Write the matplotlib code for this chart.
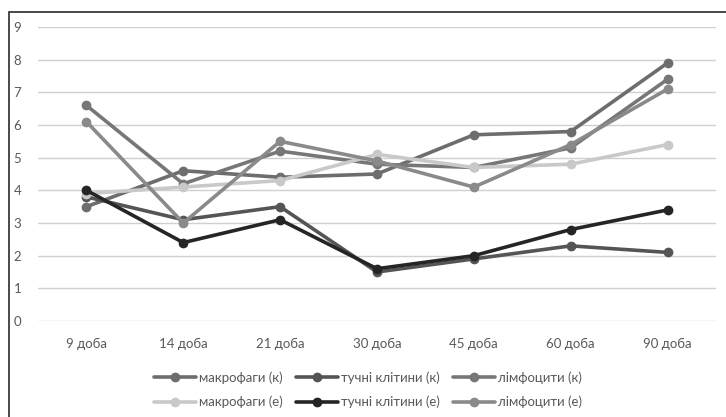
import matplotlib.pyplot as plt
from matplotlib.patches import Rectangle

plt.rcParams['font.family'] = ['Lato', 'DejaVu Sans']

# data
days = ['9 доба', '14 доба', '21 доба', '30 доба', '45 доба', '60 доба', '90 доба']
macro_k = [3.5, 4.6, 4.4, 4.5, 5.7, 5.8, 7.9]
mast_k = [3.8, 3.1, 3.5, 1.5, 1.9, 2.3, 2.1]
lymph_k = [6.6, 4.2, 5.2, 4.8, 4.7, 5.3, 7.4]
macro_e = [3.9, 4.1, 4.3, 5.1, 4.7, 4.8, 5.4]
mast_e = [4.0, 2.4, 3.1, 1.6, 2.0, 2.8, 3.4]
lymph_e = [6.1, 3.0, 5.5, 4.9, 4.1, 5.4, 7.1]

series = [
    ('макрофаги (к)', macro_k, '#6d6d6d'),
    ('тучні клітини (к)', mast_k, '#555555'),
    ('лімфоцити (к)', lymph_k, '#777777'),
    ('макрофаги (е)', macro_e, '#c9c9c9'),
    ('тучні клітини (е)', mast_e, '#252525'),
    ('лімфоцити (е)', lymph_e, '#8a8a8a'),
]

fig = plt.figure(figsize=(7.26, 4.17), dpi=100)
ax = fig.add_axes([38 / 726, 1 - 321 / 417, (716 - 38) / 726, (321 - 27) / 417])

x = list(range(len(days)))
lines = []
for label, vals, color in series:
    ln, = ax.plot(x, vals, color=color, lw=2.6, marker='o', ms=6, label=label,
                  solid_capstyle='round')
    lines.append(ln)

ax.set_xlim(-0.5, len(days) - 0.5)
ax.set_ylim(0, 9)
ax.set_yticks(range(10))
ax.set_xticks(x)
ax.set_xticklabels(days)
ax.grid(axis='y', color='#d0d0d0', lw=1)
ax.set_axisbelow(True)
for s in ax.spines.values():
    s.set_visible(False)
ax.tick_params(length=0, labelsize=9.5, colors='#595959')
ax.tick_params(axis='x', pad=12)
ax.tick_params(axis='y', pad=12)

# outer frame
fig.patches.append(Rectangle((9 / 726, -0.01), 1, 1 - 12 / 417 + 0.01,
                             transform=fig.transFigure, fill=False,
                             edgecolor='#3a3a3a', lw=1.3))

# legend filled row by row (matplotlib fills by column)
order = [0, 3, 1, 4, 2, 5]
fig.legend([lines[i] for i in order], [series[i][0] for i in order],
           loc='center', bbox_to_anchor=(368 / 726, 1 - 390 / 417), ncol=3,
           frameon=False, fontsize=9.5, handlelength=3.2, handletextpad=0.2,
           columnspacing=1.0, labelspacing=0.9, labelcolor='#595959')

fig.savefig('out.png', dpi=100)
